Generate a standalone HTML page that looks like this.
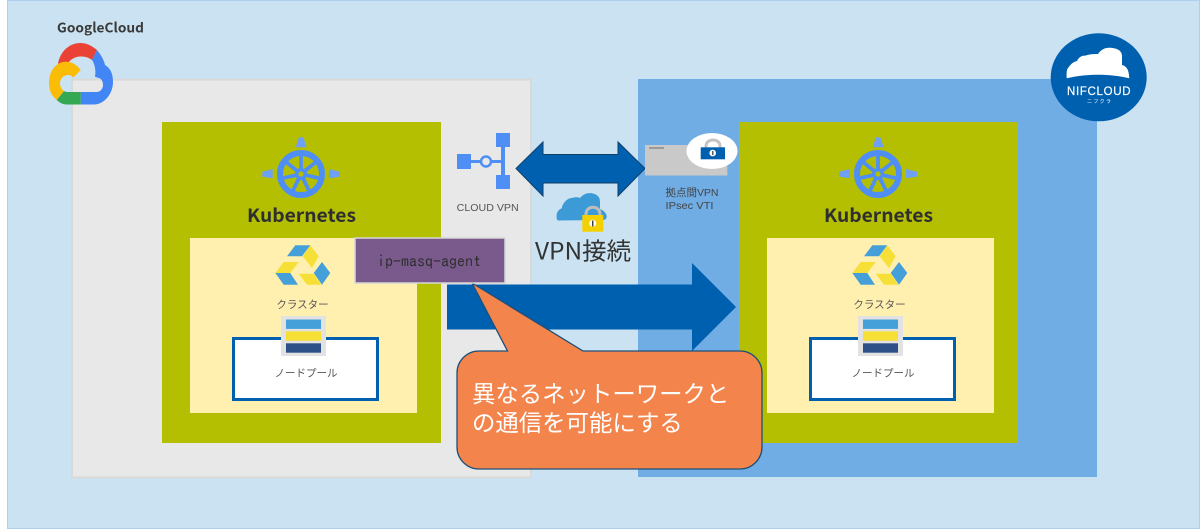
<!DOCTYPE html>
<html><head><meta charset="utf-8"><style>
html,body{margin:0;padding:0;background:#fff}
svg{display:block}
text{font-family:"Liberation Sans","Noto Sans CJK JP",sans-serif}
text.n{font-family:"Noto Sans CJK JP","Liberation Sans",sans-serif}
text.m{font-family:"IPAGothic","Liberation Mono",monospace}
</style></head><body>
<svg width="1200" height="529" viewBox="0 0 1200 529" xmlns="http://www.w3.org/2000/svg">
<defs>
<g id="k8s">
<path d="M-2 -36.700L2.300 -36.700L5.700 -26.700L-5.300 -26.700Z" fill="#6fa0f8"/>
<path d="M-38.700 -2.300L-28.300 -5L-28.300 4.300L-38.700 2.700Z" fill="#6fa0f8"/>
<path d="M28 -5L39 -2.300L39 2.700L28 4.300Z" fill="#6fa0f8"/>
<circle r="21" fill="none" stroke="#4f8ff5" stroke-width="6"/>
<g stroke="#4f8ff5" stroke-width="3.800">
<line x1="0" y1="0" x2="0" y2="-21"/>
<line x1="0" y1="0" x2="0" y2="-21" transform="rotate(51.4)"/>
<line x1="0" y1="0" x2="0" y2="-21" transform="rotate(102.9)"/>
<line x1="0" y1="0" x2="0" y2="-21" transform="rotate(154.3)"/>
<line x1="0" y1="0" x2="0" y2="-21" transform="rotate(205.7)"/>
<line x1="0" y1="0" x2="0" y2="-21" transform="rotate(257.1)"/>
<line x1="0" y1="0" x2="0" y2="-21" transform="rotate(308.6)"/>
</g>
<circle r="6" fill="#4f8ff5"/><circle r="2.600" fill="#b3bf00"/>
</g>
<g id="cluster">
<path d="M287 256.300L295.300 245.300H310.300L302 256.300Z" fill="#45a0da"/>
<path d="M310.300 245.300L318.700 256.300L312 268L302.700 256.300Z" fill="#f6df37"/>
<path d="M322 262L330.300 273L322 284.700L313.700 273Z" fill="#45a0da"/>
<path d="M298.700 273.700H313.700L321.300 284.700H307Z" fill="#f6df37"/>
<path d="M275.300 273H290.300L298 284.700H283.700Z" fill="#45a0da"/>
<path d="M275.300 273L283.700 262H298.700L290.300 273Z" fill="#f6df37"/>
</g>
<g id="pool">
<rect x="-23" y="-20" width="45" height="40" fill="#e2e2e2"/>
<rect x="-18" y="-16.500" width="35" height="9.400" fill="#45a0da"/>
<rect x="-18" y="-4.700" width="35" height="9.400" fill="#f6df37"/>
<rect x="-18" y="7.300" width="35" height="9.400" fill="#2d5088"/>
</g>
</defs>

<rect x="7" y="0" width="1193" height="529" fill="#cae2f1"/>
<rect x="7.500" y="0.500" width="1192" height="528" fill="none" stroke="#add0ee"/>

<rect x="72" y="79.500" width="459" height="398" fill="#e8e8e8" stroke="#d9d9d9" stroke-width="2"/>
<rect x="638" y="79" width="459" height="398" fill="#70ade5"/>

<g>
<rect x="162" y="122" width="279" height="321" fill="#b3bf00"/>
<use href="#k8s" x="301" y="174"/>
<text class="n" x="247" y="222" font-size="18.500" font-weight="bold" fill="#2f2f2f" textLength="109" lengthAdjust="spacingAndGlyphs">Kubernetes</text>
<rect x="190" y="238" width="227" height="175" fill="#fff0b0"/>
<use href="#cluster"/>
<text x="302.500" y="308" font-size="10.500" fill="#555" text-anchor="middle">クラスター</text>
<rect x="233.500" y="338.500" width="144" height="61" fill="#fff" stroke="#0060b0" stroke-width="3"/>
<use href="#pool" x="304" y="336"/>
<text x="306" y="376.500" font-size="10.500" fill="#555" text-anchor="middle">ノードプール</text>
</g>
<g>
<rect x="739" y="122" width="279" height="321" fill="#b3bf00"/>
<use href="#k8s" x="878" y="174"/>
<text class="n" x="824" y="222" font-size="18.500" font-weight="bold" fill="#2f2f2f" textLength="109" lengthAdjust="spacingAndGlyphs">Kubernetes</text>
<rect x="767" y="238" width="227" height="175" fill="#fff0b0"/>
<use href="#cluster" x="577"/>
<text x="879.500" y="308" font-size="10.500" fill="#555" text-anchor="middle">クラスター</text>
<rect x="810.500" y="338.500" width="144" height="61" fill="#fff" stroke="#0060b0" stroke-width="3"/>
<use href="#pool" x="881" y="336"/>
<text x="883" y="376.500" font-size="10.500" fill="#555" text-anchor="middle">ノードプール</text>
</g>

<!-- Google Cloud -->
<text class="n" x="57" y="32.500" font-size="13.500" font-weight="bold" fill="#3a3a3a" textLength="87" lengthAdjust="spacingAndGlyphs">GoogleCloud</text>
<path d="M58 64C60 51 70 43 80 43C87 43 92 46 97 50L92 60C88 57 85 56.500 80 56.500C76 56.500 71 59 68 63C64 62 61 62.500 58 64Z" fill="#ea4335"/>
<path d="M97 50C101 55 104 60 105 65C110 68 113 73 113 82C113 94 104 104.500 94 104.500H80.700V92H96.700C100 92 103 89 103 85C103 81 101 78 98 77.700L95 76.700C95.500 73 95.500 71 95 68C94.500 65 93.500 62 92 60Z" fill="#4285f4"/>
<path d="M80.700 92V104.500H67C63 104.500 60 103 56.700 100L64 91C65.500 92 67 92 70 92Z" fill="#34a853"/>
<path d="M56.700 100C51.500 96 49 90 49 83C49 71 56 61.700 66 61.700C72 61.700 77 65 80.700 70L73.300 77.700C71.500 75.500 70 75 68 75C63 75 60 79 60 83.300C60 87 62 90 64 91Z" fill="#fbbc05"/>

<!-- NIFCLOUD -->
<ellipse cx="1098.700" cy="77.300" rx="48" ry="44" fill="#0060b0"/>
<path d="M1066.700 78.300C1066.500 73 1066.500 70 1068 68C1071 64 1073 62 1077 61C1079 57 1082 55.500 1085 55.700C1090 54 1094 54 1098 54C1101 49.500 1105 47.700 1109 47.700C1116 47.700 1122 50 1122 56V65C1126 66 1129 69 1129.300 78.300C1110 73.500 1086 73.500 1066.700 78.300Z" fill="#fff"/>
<text x="1067" y="95" font-size="11.500" fill="#fff" stroke="#fff" stroke-width="0.200" textLength="63.500" lengthAdjust="spacing">NIFCLOUD</text>
<text x="1087" y="103" font-size="5" fill="#fff" textLength="24" lengthAdjust="spacing">ニフクラ</text>

<!-- CLOUD VPN icon -->
<g fill="#4f8ff5">
<rect x="457" y="154" width="14" height="15"/>
<rect x="496" y="133" width="14" height="14"/>
<rect x="496" y="175" width="14" height="14"/>
<rect x="501" y="147" width="4" height="28"/>
<rect x="471" y="160" width="32" height="3"/>
</g>
<circle cx="486" cy="161.500" r="5" fill="#e8e8e8" stroke="#4f8ff5" stroke-width="2.500"/>
<text x="456.700" y="211" font-size="10.500" fill="#555" textLength="62" lengthAdjust="spacingAndGlyphs">CLOUD VPN</text>

<!-- double arrow -->
<path d="M516 168.500L543 142V154.500H618V142L645 168.500L618 196V183H543V196Z" fill="#0060b0" stroke="#123f66" stroke-width="1"/>

<!-- VPN gateway -->
<rect x="645" y="145" width="82.300" height="30.500" fill="#c9c9c9"/>
<rect x="649" y="147" width="15" height="2" fill="#9a9a9a"/>
<ellipse cx="712" cy="151" rx="25.500" ry="18" fill="#fff"/>
<path d="M706 148V146C706 138 720 138 720 146V148" fill="none" stroke="#c4c4c4" stroke-width="3"/>
<rect x="700.700" y="147.300" width="24.300" height="12" fill="#0060b0"/>
<circle cx="712.700" cy="153" r="3.300" fill="#fff"/><rect x="712.200" y="151" width="1.200" height="4" fill="#333"/>
<text x="665.500" y="196" font-size="10.500" fill="#444" textLength="53" lengthAdjust="spacingAndGlyphs">拠点間VPN</text>
<text x="665.500" y="209" font-size="10.500" fill="#444" textLength="48" lengthAdjust="spacingAndGlyphs">IPsec VTI</text>

<!-- VPN cloud -->
<path d="M556.700 218C556 213 558 210 561.700 208.300C563 202 568 198 571.700 198C575 197 578 197 580 198C583 194 588 192.500 591.700 193.300C597 194 600 197 600 201.700V209C604 210.500 607 214 606.700 217C606 220 604 220 602 220L558 220.500C557 220 556.700 219 556.700 218Z" fill="#3c9ad6"/>
<path d="M586 216V214C586 205 600 205 600 214V216" fill="none" stroke="#bdbdbd" stroke-width="3"/>
<rect x="582.300" y="215" width="21" height="16.700" fill="#f5d000"/>
<circle cx="592.700" cy="223.300" r="3.500" fill="#fff"/><rect x="592" y="220.500" width="1.500" height="6" fill="#444"/>
<text class="n" x="535" y="259.500" font-size="24" fill="#333" textLength="96" lengthAdjust="spacingAndGlyphs">VPN接続</text>

<!-- big arrow -->
<path d="M447 284.500H692V263L736 307L692 351V329.500H447Z" fill="#0060b0"/>

<!-- callout -->
<path d="M479 351H507.500L472 283L583 351H740A22 22 0 0 1 762 373V447A22 22 0 0 1 740 469H479A22 22 0 0 1 457 447V373A22 22 0 0 1 479 351Z" fill="#f3844c" stroke="#1d4f78" stroke-width="1.300"/>
<text x="472" y="402" font-size="23.400" fill="#fff">異なるネットーワークと</text>
<text x="472" y="431" font-size="23.400" fill="#fff">の通信を可能にする</text>

<!-- purple label -->
<rect x="355" y="238" width="150" height="45" fill="#7a5a8c" stroke="#d6d6d6" stroke-width="1.500"/>
<text class="m" x="377" y="267" font-size="16" fill="#2e2e2e">ip-masq-agent</text>
</svg>
</body></html>
